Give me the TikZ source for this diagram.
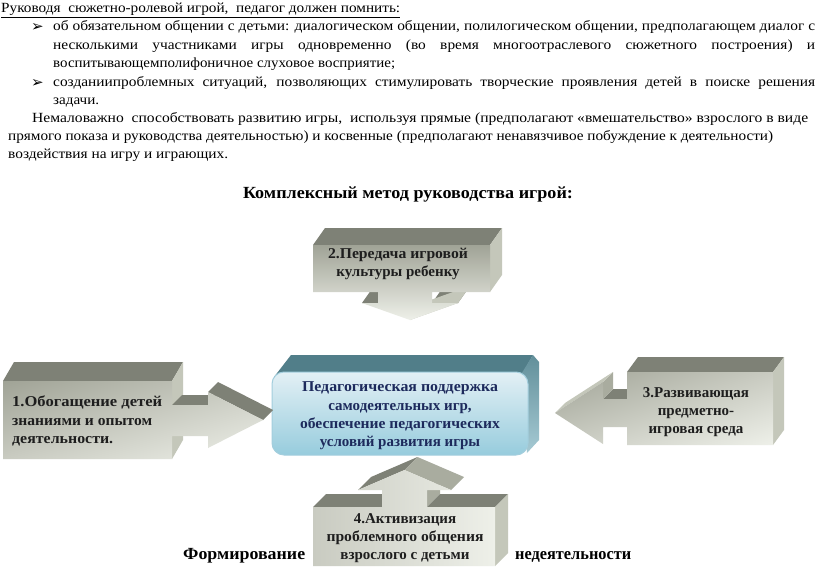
\documentclass[tikz,border=0pt]{standalone}
\usepackage{fontspec}
\usepackage{graphicx}
\usetikzlibrary{shadings}
\setmainfont{Liberation Serif}
\newfontfamily\dejavu{DejaVu Sans}
\newsavebox\fitbox
\newcommand\fitw[2]{\sbox\fitbox{#2}\pgfmathsetmacro\fitsx{#1/\wd\fitbox}\scalebox{\fitsx}[1]{\usebox\fitbox}}
\newcommand\justl[1]{\scalebox{1.1}[1]{\hbox to 692.7pt{#1}}}
\definecolor{topgray}{HTML}{7E8176}
\definecolor{sidegray}{HTML}{C4C7BA}
\definecolor{midgray}{HTML}{A9AC9F}
\definecolor{frontdark}{HTML}{A0A396}
\definecolor{frontmid}{HTML}{C9CBC1}
\definecolor{frontlight}{HTML}{EEF0E9}
\definecolor{tealtop}{HTML}{517E89}
\definecolor{tealside}{HTML}{628F9A}
\definecolor{tealside2}{HTML}{A6CAD4}
\definecolor{cfronttop}{HTML}{E3F0F5}
\definecolor{cfrontbot}{HTML}{97CCDD}
\definecolor{cborder}{HTML}{A3CEDD}
\definecolor{navy}{HTML}{1D2A5C}
\definecolor{txtdark}{HTML}{1E1E1E}
\tikzset{
  txt/.style={anchor=base west, inner sep=0pt, font=\fontsize{14}{16}\selectfont},
  bul/.style={anchor=base west, inner sep=0pt, font=\dejavu\fontsize{15}{16}\selectfont},
  head/.style={anchor=base, inner sep=0pt, font=\bfseries\fontsize{17}{20}\selectfont},
  topf/.style={fill=topgray},
  sidef/.style={fill=sidegray},
  midf/.style={fill=midgray},
  frontf/.style={upper left=frontdark, upper right=frontmid, lower left=frontmid, lower right=frontlight},
  boxtxt/.style={font=\bfseries\fontsize{15}{18.3}\selectfont, align=center, text=txtdark, inner sep=0pt},
}
\begin{document}
\begin{tikzpicture}[x=1pt,y=-1pt]
\useasboundingbox (0,0) rectangle (816,578);
\fill[white] (0,0) rectangle (816,578);

% ---- top text ----
\node[txt] (l1) at (1,13) {\fitw{399}{\underline{Руководя\ \ сюжетно-ролевой игрой,\ \ педагог должен помнить:}}};
\node[bul] (b1) at (31,32) {➢};
\node[txt] (l2) at (53,31) {\justl{об обязательном общении с детьми: диалогическом общении, полилогическом общении, предполагающем диалог с}};
\node[txt] (l3) at (53,49) {\justl{несколькими участниками игры одновременно (во время многоотраслевого сюжетного построения) и}};
\node[txt] (l4) at (53,67) {\fitw{342}{воспитывающемполифоничное слуховое восприятие;}};
\node[bul] (b2) at (31,87) {➢};
\node[txt] (l5) at (53,86) {\justl{созданиипроблемных ситуаций, позволяющих стимулировать творческие проявления детей в поиске решения}};
\node[txt] (l6) at (53,104) {\fitw{46}{задачи.}};
\node[txt] (l7) at (32,122) {\fitw{776}{Немаловажно\ \ способствовать развитию игры,\ \ используя прямые (предполагают «вмешательство» взрослого в виде}};
\node[txt] (l8) at (8,140) {\fitw{765}{прямого показа и руководства деятельностью) и косвенные (предполагают ненавязчивое побуждение к деятельности)}};
\node[txt] (l9) at (8,158) {\fitw{220}{воздействия на игру и играющих.}};

\node[head] (title) at (408,198) {\fitw{330}{Комплексный метод руководства игрой:}};

% ---- bottom text (partly hidden by box 4) ----
\node[head, anchor=base west] (f1) at (183,559) {\fitw{122}{Формирование}};
\node[head, anchor=base west] (f2) at (515,559) {\fitw{116}{недеятельности}};

% ---- central box ----
\fill[tealtop] (274,377) -- (291,355) -- (533,355) -- (522,374) -- cycle;
\shade[top color=tealside, bottom color=tealside2] (520,376) -- (533,355) -- (539,362) -- (539,440) -- (527,453) -- cycle;
\shade[top color=cfronttop, bottom color=cfrontbot, draw=cborder, line width=1pt, rounded corners=12pt] (272,372) rectangle (528,455);
\node[boxtxt, text=navy] (c) at (400,416) {\fitw{196}{Педагогическая поддержка}\\самодеятельных игр,\\\fitw{200}{обеспечение педагогических}\\условий развития игры};

% ---- box 2 (down arrow) ----
\fill[topf] (313,245) -- (490,245) -- (502,228) -- (325,228) -- cycle;
\fill[sidef] (490,245) -- (502,228) -- (502,275) -- (490,292) -- cycle;
\fill[topf] (362,303) -- (378,303) -- (390,286) -- (374,286) -- cycle;
\fill[topf] (432,303) -- (458,303) -- (470,286) -- (444,286) -- cycle;
\fill[sidef] (458,303) -- (470,286) -- (422,303) -- (410,320) -- cycle;
\shade[top color=frontdark, bottom color=frontlight] (313,245) -- (490,245) -- (490,292) -- (432,292) -- (432,303) -- (458,303) -- (410,320) -- (362,303) -- (378,303) -- (378,292) -- (313,292) -- cycle;
\node[boxtxt] (t2) at (398,264) {\fitw{140}{2.Передача игровой}\\культуры ребенку};

% ---- box 1 (right arrow) ----
\fill[topf] (3,381) -- (172,381) -- (183,362) -- (14,362) -- cycle;
\fill[sidef] (172,381) -- (183,362) -- (183,440) -- (172,459) -- cycle;
\fill[topf] (172,405) -- (208,405) -- (218,395) -- (182,395) -- cycle;
\fill[topf] (208,392) -- (263,420) -- (273,410) -- (218,382) -- cycle;
\shade[frontf] (3,381) -- (172,381) -- (172,405) -- (208,405) -- (208,392) -- (263,420) -- (208,448) -- (208,436) -- (172,436) -- (172,459) -- (3,459) -- cycle;
\node[boxtxt, align=left, anchor=west] (t1) at (12,421) {\fitw{150}{1.Обогащение детей}\\\fitw{140}{знаниями и опытом}\\\fitw{101}{деятельности.}};

% ---- box 3 (left arrow) ----
\fill[topf] (627,372) -- (773,372) -- (784,357) -- (638,357) -- cycle;
\fill[sidef] (773,372) -- (784,357) -- (784,430) -- (773,445) -- cycle;
\fill[topf] (603,399) -- (627,399) -- (637,389) -- (613,389) -- cycle;
\fill[midf] (603,382) -- (613,372) -- (613,389) -- (603,399) -- cycle;
\fill[sidef] (555,413) -- (603,382) -- (613,372) -- (565,403) -- cycle;
\shade[frontf] (627,372) -- (773,372) -- (773,445) -- (627,445) -- (627,427) -- (603,427) -- (603,444) -- (555,413) -- (603,382) -- (603,399) -- (627,399) -- cycle;
\node[boxtxt] (t3) at (696,412) {3.Развивающая\\предметно-\\игровая среда};

% ---- box 4 (up arrow) ----
\fill[topf] (358,490) -- (404.5,470) -- (417.5,457) -- (371,477) -- cycle;
\fill[midf] (404.5,470) -- (451,490) -- (464,477) -- (417.5,457) -- cycle;
\fill[midf] (427,490) -- (440,477) -- (440,494) -- (427,507) -- cycle;
\fill[topf] (313,507) -- (382,507) -- (395,494) -- (326,494) -- cycle;
\fill[topf] (427,507) -- (495,507) -- (508,494) -- (440,494) -- cycle;
\fill[sidef] (495,507) -- (508,494) -- (508,553) -- (495,566) -- cycle;
\shade[upper left=frontmid, upper right=frontlight, lower left=frontmid, lower right=frontlight] (313,507) -- (382,507) -- (382,490) -- (358,490) -- (404.5,470) -- (451,490) -- (427,490) -- (427,507) -- (495,507) -- (495,566) -- (313,566) -- cycle;
\node[boxtxt] (t4) at (405,538) {4.Активизация\\\fitw{157}{проблемного общения}\\взрослого с детьми};
\end{tikzpicture}
\end{document}
